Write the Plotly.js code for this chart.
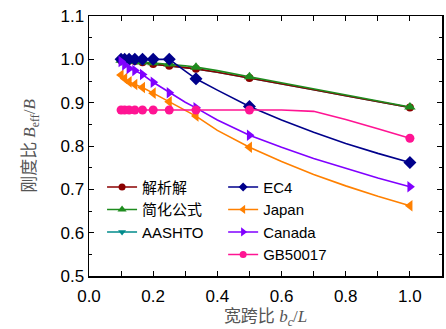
<!DOCTYPE html>
<html>
<head>
<meta charset="utf-8">
<script src="https://cdn.plot.ly/plotly-3.0.1.min.js"></script>
<style>html,body{margin:0;padding:0;background:#fff;}#chart{width:446px;height:329px;}</style>
</head>
<body>
<div id="chart"></div>
<script>
// width-to-span ratio grid (line points)
const xGrid = [0.1, 1/9, 0.125, 1/7, 1/6, 0.2, 0.25, 0.3, 1/3, 0.4, 0.5, 0.6, 0.7, 0.8, 0.9, 1.0];
// x values that carry a marker
const markerX = [0.1, 1/9, 0.125, 1/7, 1/6, 0.2, 0.25, 1/3, 0.5, 1.0];

const seriesNames = ['解析解', '简化公式', 'AASHTO', 'EC4', 'Japan', 'Canada', 'GB50017'];
const yAnalytic = [0.998, 0.998, 0.997, 0.996, 0.993, 0.989, 0.985, 0.981, 0.978, 0.970, 0.957, 0.944, 0.930, 0.916, 0.903, 0.889];
const ySimplified = [0.998, 0.997, 0.996, 0.995, 0.994, 0.992, 0.989, 0.985, 0.982, 0.974, 0.960, 0.946, 0.932, 0.918, 0.904, 0.890];
const yAASHTO = [0.998, 0.998, 0.997, 0.996, 0.993, 0.989, 0.985, 0.981, 0.978, 0.970, 0.957, 0.944, 0.930, 0.916, 0.903, 0.889];
const yEC4 = [1.0, 1.0, 1.0, 1.0, 1.0, 1.0, 1.0, 0.973, 0.955, 0.929, 0.891, 0.860, 0.832, 0.806, 0.783, 0.762];
const yJapan = [0.964, 0.956, 0.948, 0.942, 0.935, 0.922, 0.902, 0.883, 0.869, 0.836, 0.797, 0.764, 0.734, 0.708, 0.684, 0.662];
const yCanada = [0.995, 0.987, 0.979, 0.974, 0.965, 0.947, 0.923, 0.901, 0.888, 0.860, 0.825, 0.797, 0.771, 0.748, 0.726, 0.706];
const yGB = [0.883, 0.883, 0.883, 0.883, 0.883, 0.883, 0.883, 0.883, 0.883, 0.883, 0.883, 0.883, 0.880, 0.861, 0.840, 0.818];

const seriesY = [yAnalytic, ySimplified, yAASHTO, yEC4, yJapan, yCanada, yGB];
const colors = ['#8B0000', '#1E8C1E', '#008B8B', '#00008B', '#FF8000', '#8000FF', '#FF1493'];
const symbols = ['circle', 'triangle-up', 'triangle-down', 'diamond', 'triangle-left', 'triangle-right', 'circle'];
const sizes = [8, 10, 5, 10, 10, 10, 9];
const legendSizes = [7, 8, 7, 7, 8, 8, 7];
const legendOf = ['legend', 'legend', 'legend', 'legend2', 'legend2', 'legend2', 'legend2'];
const drawOrder = [2, 0, 1, 3, 4, 5, 6];

const selIdx = xGrid.map((x, i) => markerX.some(m => Math.abs(m - x) < 1e-9) ? i : -1).filter(i => i >= 0);

const traces = drawOrder.map(k => ({
  x: xGrid,
  y: seriesY[k],
  name: seriesNames[k],
  type: 'scatter',
  mode: 'lines+markers',
  showlegend: false,
  line: {color: colors[k], width: 1.6},
  marker: {color: colors[k], symbol: symbols[k], size: sizes[k]},
  selectedpoints: selIdx,
  selected: {marker: {opacity: 1}},
  unselected: {marker: {opacity: 0}},
  hoverinfo: 'skip'
}));

// legend entries (smaller symbols, as in the reference legend)
seriesNames.forEach((name, k) => {
  traces.push({
    x: [null], y: [null],
    name: name,
    type: 'scatter',
    mode: 'lines+markers',
    legend: legendOf[k],
    legendrank: k + 1,
    line: {color: colors[k], width: 1.6},
    marker: {color: colors[k], symbol: symbols[k], size: legendSizes[k]},
    hoverinfo: 'skip'
  });
});

const tickFont = {family: 'Liberation Sans, Arial, sans-serif', size: 17, color: '#000'};
const titleFont = {family: 'Liberation Serif, "Noto Sans CJK SC", serif', size: 17, color: '#555'};
const legendFont = {family: 'Liberation Sans, Arial, "Noto Sans CJK SC", sans-serif', size: 15, color: '#000'};

const layout = {
  width: 446, height: 329,
  margin: {l: 89, r: 4, t: 16, b: 53},
  paper_bgcolor: '#fff', plot_bgcolor: '#fff',
  xaxis: {
    range: [0, 1.1], tick0: 0, dtick: 0.2, tickformat: '.1f',
    ticks: 'inside', ticklen: 5, tickwidth: 1, tickcolor: '#000',
    minor: {dtick: 0.1, ticks: 'inside', ticklen: 5, tickcolor: '#000'},
    showline: true, linecolor: '#000', linewidth: 1.5, mirror: 'ticks',
    showgrid: false, zeroline: false, tickfont: tickFont, ticklabelstandoff: 4,
    title: {text: '宽跨比 <i>b<sub>c</sub></i>/<i>L</i>', font: titleFont, standoff: 15}
  },
  yaxis: {
    range: [0.5, 1.1], tick0: 0.5, dtick: 0.1, tickformat: '.1f',
    ticks: 'inside', ticklen: 5, tickwidth: 1, tickcolor: '#000',
    minor: {dtick: 0.05, ticks: 'inside', ticklen: 3, tickcolor: '#000'},
    showline: true, linecolor: '#000', linewidth: 1.5, mirror: 'ticks',
    showgrid: false, zeroline: false, tickfont: tickFont,
    title: {text: '刚度比 <i>B</i><sub>eff</sub>/<i>B</i>', font: titleFont, standoff: 20}
  },
  legend: {
    x: 0.037, y: 0.405, xanchor: 'left', yanchor: 'top',
    bgcolor: 'rgba(0,0,0,0)', font: legendFont,
    tracegroupgap: 0, traceorder: 'normal', itemwidth: 30
  },
  legend2: {
    x: 0.38, y: 0.405, xanchor: 'left', yanchor: 'top',
    bgcolor: 'rgba(0,0,0,0)', font: legendFont,
    tracegroupgap: 0, traceorder: 'normal', itemwidth: 30
  },
  showlegend: true
};

Plotly.newPlot('chart', traces, layout, {staticPlot: true, displayModeBar: false});
</script>
</body>
</html>
